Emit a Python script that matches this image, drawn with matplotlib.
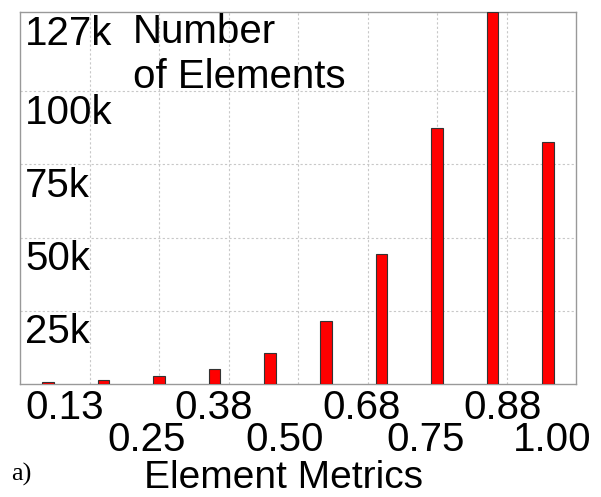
import numpy as np
import matplotlib
matplotlib.use("Agg")
import matplotlib.pyplot as plt

# bar data
bin_centers = [0.05, 0.15, 0.25, 0.35, 0.45, 0.55, 0.65, 0.75, 0.85, 0.95]
counts = [600, 1400, 2700, 5100, 10500, 21500, 44300, 87300, 127000, 82700]

ytick_vals = [25000, 50000, 75000, 100000, 127000]
ytick_text = ['25k', '50k', '75k', '100k', '127k']
xtick_text = ['0.13', '0.25', '0.38', '0.50', '0.68', '0.75', '0.88', '1.00']

plt.rcParams['font.family'] = ['Liberation Sans', 'DejaVu Sans']

W, H = 601, 497
fig = plt.figure(figsize=(W/100, H/100), dpi=100)
ax = fig.add_axes([20/W, 113/H, 556/W, 372/H])

def px(x, y):
    # pixel position (from top left) -> figure fraction
    return x/W, 1 - y/H

ax.bar(bin_centers, counts, width=0.021, color='#ff0000', edgecolor='#333333', linewidth=0.8, zorder=3)

ax.set_xlim(0, 1)
ax.set_ylim(0, 127000)
ax.set_xticks(np.arange(0.125, 1.0, 0.125))
ax.set_yticks(ytick_vals[:-1])
ax.set_xticklabels([])
ax.set_yticklabels([])
ax.tick_params(length=0)
ax.grid(True, color='#c8c8c8', linestyle=(0, (2, 2)), linewidth=0.8, zorder=0)
for s in ax.spines.values():
    s.set_color('#999999')
    s.set_linewidth(1.0)

fs = 29
# y labels sit inside the plot, under each grid line
for v, t in zip(ytick_vals, ytick_text):
    ax.annotate(t, xy=(0, v), xycoords=('axes fraction', 'data'), xytext=(3.6, -23.5),
                textcoords='offset points', ha='left', va='baseline', fontsize=fs)

fig.text(*px(133, 43), 'Number', ha='left', va='baseline', fontsize=fs)
fig.text(*px(133, 88), 'of Elements', ha='left', va='baseline', fontsize=fs)

# x labels in two staggered rows (pixel centers)
xlab_px = [65, 147, 214, 285, 362, 426, 503, 552]
for i, (x, t) in enumerate(zip(xlab_px, xtick_text)):
    y = 419 if i % 2 == 0 else 451
    fig.text(*px(x, y), t, ha='center', va='baseline', fontsize=fs)

fig.text(*px(283, 488), 'Element Metrics', ha='center', va='baseline', fontsize=28)
fig.text(*px(11, 481), 'a)', ha='left', va='baseline', fontsize=19, family='Liberation Serif')

fig.savefig('out.png', dpi=100)
